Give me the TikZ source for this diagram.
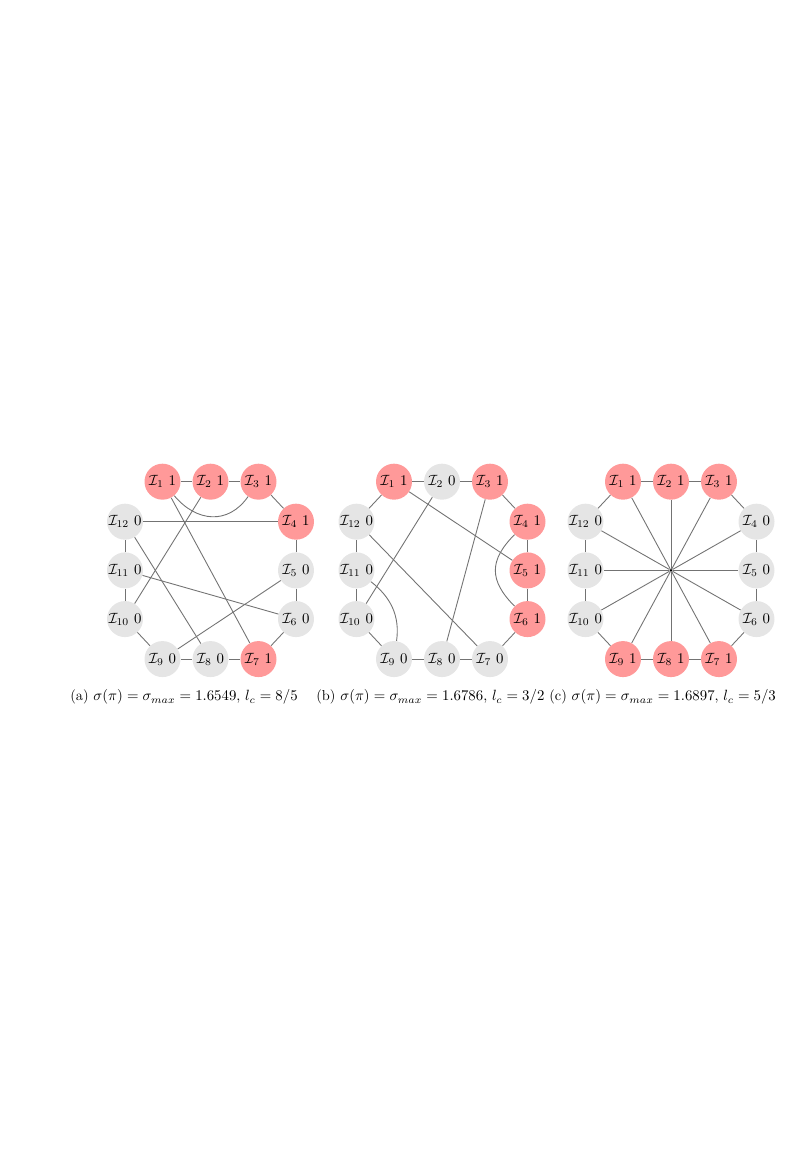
\documentclass[tikz,border=0pt]{standalone}
\usepackage{amsmath}
\begin{document}
\begin{tikzpicture}[x=0.675pt,y=0.675pt,
  vr/.style={circle,fill=red!40,minimum size=24.3pt,inner sep=0pt},
  vg/.style={circle,fill=black!10,minimum size=24.3pt,inner sep=0pt},
  ed/.style={draw=black!55,line width=0.6pt},
  captext/.style={anchor=base west,inner sep=0pt,font=\fontsize{9.7}{11.5}\selectfont}]
\useasboundingbox (0,0) rectangle (803,1168);
\newcommand\ringpanel[3]{%
  \foreach \v [count=\i] in {#3}{%
    \pgfmathsetmacro\px{{-48,0,48,85.5,85.5,85.5,48,0,-48,-85.5,-85.5,-85.5}[\i-1]}%
    \pgfmathsetmacro\py{{88.7,88.7,88.7,48.7,0,-48.7,-88.7,-88.7,-88.7,-48.7,0,48.7}[\i-1]}%
    \ifnum\v=1 \def\st{vr}\else\def\st{vg}\fi
    \node[\st] (#1\i) at (#2+\px,597.6+\py) {$\mathcal{I}_{\i}$ \v};
  }}
% panel (a)
\ringpanel{a}{210.5}{1,1,1,1,0,0,1,0,0,0,0,0}
\foreach \p/\q in {1/2,2/3,3/4,4/5,5/6,6/7,7/8,8/9,9/10,10/11,11/12,1/7,2/10,12/4,12/8,11/6,5/9}
  \draw[ed] (a\p) -- (a\q);
\draw[ed] (a1) to[out=-50,in=-125,looseness=1.2] (a3);
% panel (b)
\ringpanel{b}{442}{1,0,1,1,1,1,0,0,0,0,0,0}
\foreach \p/\q in {1/2,2/3,3/4,4/5,5/6,6/7,7/8,8/9,9/10,10/11,11/12,12/1,1/5,2/10,3/8,12/7}
  \draw[ed] (b\p) -- (b\q);
\draw[ed] (b4) to[out=-135,in=135,looseness=1.3] (b6);
\draw[ed] (b11) to[out=-38,in=82,looseness=1] (b9);
% panel (c)
\ringpanel{c}{671}{1,1,1,0,0,0,1,1,1,0,0,0}
\node[circle,fill=black,inner sep=0pt,minimum size=2pt] (cc) at (671,597.6) {};
\foreach \p/\q in {1/2,2/3,3/4,4/5,5/6,6/7,7/8,8/9,9/10,10/11,11/12,12/1}
  \draw[ed] (c\p) -- (c\q);
\foreach \p in {1,...,12}
  \draw[ed] (c\p) -- (cc);
% captions
\node[captext] (capa) at (70,467) {(a) $\sigma(\pi)=\sigma_{max}=1.6549$, $l_c=8/5$};
\node[captext] (capb) at (316,467) {(b) $\sigma(\pi)=\sigma_{max}=1.6786$, $l_c=3/2$};
\node[captext] (capc) at (549,467) {(c) $\sigma(\pi)=\sigma_{max}=1.6897$, $l_c=5/3$};
\end{tikzpicture}
\end{document}
